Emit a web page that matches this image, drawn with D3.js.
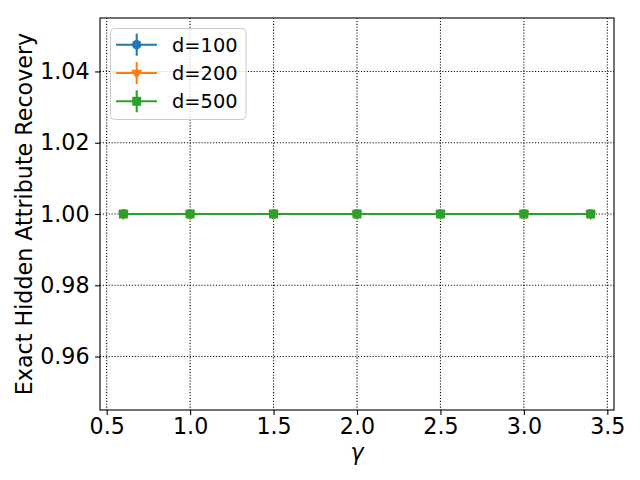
<!DOCTYPE html>
<html><head><meta charset="utf-8">
<script src="https://cdn.jsdelivr.net/npm/d3@7"></script>
<style>body{margin:0;background:#fff}svg{font-family:"DejaVu Sans",sans-serif}</style>
</head><body>
<svg id="c" width="640" height="480"></svg>
<script>
const gammas = [0.6, 1.0, 1.5, 2.0, 2.5, 3.0, 3.4];
const d100 = [1, 1, 1, 1, 1, 1, 1];
const d200 = [1, 1, 1, 1, 1, 1, 1];
const d500 = [1, 1, 1, 1, 1, 1, 1];
const seriesNames = ["d=100", "d=200", "d=500"];
const xTicks = [0.5, 1.0, 1.5, 2.0, 2.5, 3.0, 3.5];
const yTicks = [0.96, 0.98, 1.00, 1.02, 1.04];

const svg = d3.select("#c");
const L = 100, R = 614, T = 18, B = 410;
const x = d3.scaleLinear().domain([0.46, 3.54]).range([L, R]);
const y = d3.scaleLinear().domain([0.945, 1.055]).range([B, T]);
const colors = ["#1f77b4", "#ff7f0e", "#2ca02c"];
const symbols = [d3.symbolCircle, d3.symbolTriangle, d3.symbolSquare];
const symSizes = [70, 55, 80];
const rot = [0, 180, 0];
const series = [d100, d200, d500];

// grid
svg.append("g").selectAll("line").data(xTicks).join("line")
  .attr("x1", d => x(d)).attr("x2", d => x(d)).attr("y1", T).attr("y2", B)
  .attr("stroke", "#000").attr("stroke-width", 1.1).attr("stroke-dasharray", "1.1,1.8");
svg.append("g").selectAll("line").data(yTicks).join("line")
  .attr("y1", d => y(d)).attr("y2", d => y(d)).attr("x1", L).attr("x2", R)
  .attr("stroke", "#000").attr("stroke-width", 1.1).attr("stroke-dasharray", "1.1,1.8");

// axes
const xAxis = svg.append("g").attr("transform", `translate(0,${B})`)
  .call(d3.axisBottom(x).tickValues(xTicks).tickFormat(d3.format(".1f")).tickSizeInner(4.9).tickSizeOuter(0).tickPadding(3.2));
const yAxis = svg.append("g").attr("transform", `translate(${L},0)`)
  .call(d3.axisLeft(y).tickValues(yTicks).tickFormat(d3.format(".2f")).tickSizeInner(4.9).tickSizeOuter(0).tickPadding(5.5));
[xAxis, yAxis].forEach(a => {
  a.select(".domain").remove();
  a.selectAll("text").attr("font-size", 22.2).attr("font-family", "DejaVu Sans").attr("fill", "#000");
  a.selectAll("line").attr("stroke", "#000").attr("stroke-width", 1.1);
});

// series
const line = d3.line().x((d, i) => x(gammas[i])).y(d => y(d));
series.forEach((s, k) => {
  const g = svg.append("g");
  g.append("path").datum(s).attr("d", line).attr("fill", "none").attr("stroke", colors[k]).attr("stroke-width", 2.08);
  g.selectAll("path.m").data(s).join("path").attr("class", "m")
    .attr("d", d3.symbol().type(symbols[k]).size(symSizes[k]))
    .attr("transform", (d, i) => `translate(${x(gammas[i])},${y(d)}) rotate(${rot[k]})`)
    .attr("fill", colors[k]);
});

// frame
svg.append("rect").attr("x", L).attr("y", T).attr("width", R - L).attr("height", B - T)
  .attr("fill", "none").attr("stroke", "#000").attr("stroke-width", 1.1);

// labels
svg.append("text").attr("x", (L + R) / 2).attr("y", 459.5).attr("text-anchor", "middle")
  .attr("font-size", 22.2).attr("font-style", "italic").text("γ");
svg.append("text").attr("transform", `translate(31.5,${(T + B) / 2}) rotate(-90)`).attr("text-anchor", "middle")
  .attr("font-size", 22.2).text("Exact Hidden Attribute Recovery");

// legend
const lg = svg.append("g");
lg.append("rect").attr("x", 110.5).attr("y", 28.5).attr("width", 135.5).attr("height", 91).attr("rx", 4)
  .attr("fill", "#fff").attr("fill-opacity", 0.8).attr("stroke", "#ccc").attr("stroke-width", 1);
seriesNames.forEach((n, k) => {
  const yy = 44.7 + k * 28.3;
  lg.append("line").attr("x1", 116).attr("x2", 157).attr("y1", yy).attr("y2", yy).attr("stroke", colors[k]).attr("stroke-width", 2.08);
  lg.append("line").attr("x1", 136.7).attr("x2", 136.7).attr("y1", yy - 11).attr("y2", yy + 11).attr("stroke", colors[k]).attr("stroke-width", 2.08);
  lg.append("path").attr("d", d3.symbol().type(symbols[k]).size(symSizes[k])())
    .attr("transform", `translate(136.7,${yy}) rotate(${rot[k]})`).attr("fill", colors[k]);
  lg.append("text").attr("x", 172).attr("y", yy + 7).attr("font-size", 19.4).text(n);
});
</script>
</body></html>
